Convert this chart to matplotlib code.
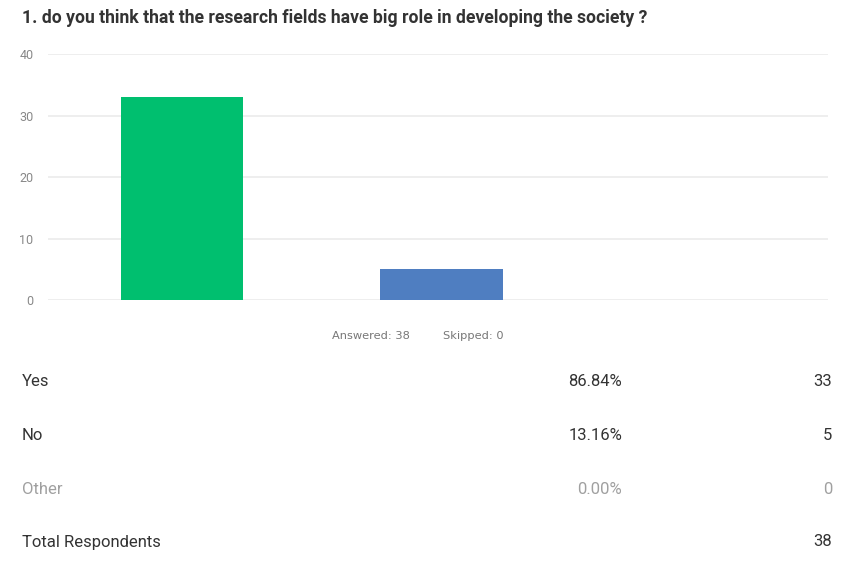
import matplotlib.pyplot as plt

plt.rcParams['font.family'] = ['Roboto', 'DejaVu Sans']

question = '1. do you think that the research fields have big role in developing the society ?'
choices = ['Yes', 'No', 'Other']
counts = [33, 5, 0]
percents = ['86.84%', '13.16%', '0.00%']
answered = 38
skipped = 0
total = 38
bar_colors = ['#00BF6F', '#4F7EC1', '#F05B24']

fig = plt.figure(figsize=(8.44, 5.72), dpi=100)
ax = fig.add_axes([0.057, 0.4755, 0.924, 0.430])

xs = range(len(choices))
ax.bar(xs, counts, width=0.473, color=bar_colors, zorder=3)

ax.set_xlim(-0.515, 2.485)
ax.set_ylim(0, 40)
ax.set_yticks([0, 10, 20, 30, 40])
ax.set_xticks([])
ax.grid(axis='y', color='#ebebeb', linewidth=1.2, zorder=0)
ax.tick_params(axis='y', length=0, labelsize=9, labelcolor='#888888', pad=10.5)
for s in ax.spines.values():
    s.set_visible(False)

fig.text(22 / 844, 1 - 18 / 572, question, fontsize=12.7, fontweight='bold',
         color='#333333', va='center', ha='left')

small = dict(fontsize=8.2, color='#777777', va='center', ha='left', family='DejaVu Sans')
fig.text(332 / 844, 1 - 336 / 572, f'Answered: {answered}', **small)
fig.text(443 / 844, 1 - 336 / 572, f'Skipped: {skipped}', **small)

row_y = [381, 435, 489]
for i, (c, p, n) in enumerate(zip(choices, percents, counts)):
    col = '#a0a0a0' if n == 0 else '#333333'
    y = 1 - row_y[i] / 572
    fig.text(22 / 844, y, c, fontsize=12, color=col, va='center', ha='left')
    fig.text(622 / 844, y, p, fontsize=12, color=col, va='center', ha='right')
    fig.text(832 / 844, y, str(n), fontsize=12, color=col, va='center', ha='right')

y = 1 - 542 / 572
fig.text(22 / 844, y, 'Total Respondents', fontsize=12, color='#333333', va='center', ha='left')
fig.text(832 / 844, y, str(total), fontsize=12, color='#333333', va='center', ha='right')

fig.savefig('out.png', dpi=100)
